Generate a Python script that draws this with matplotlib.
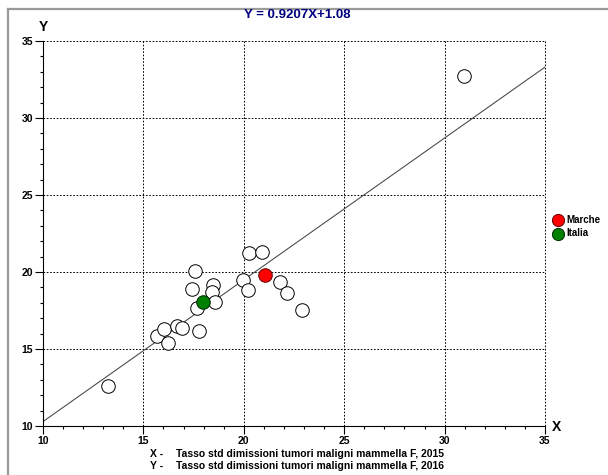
import matplotlib
matplotlib.use("Agg")
import matplotlib.pyplot as plt
from matplotlib.lines import Line2D
import numpy as np

# Data (rates 2015 vs 2016)
x_regions = [13.25, 15.69, 16.03, 16.21, 16.69, 16.91, 17.78, 17.65, 17.57, 17.40,
             18.45, 18.40, 18.57, 20.28, 20.90, 19.98, 20.19, 21.80, 22.17, 22.88, 30.97]
y_regions = [12.60, 15.84, 16.28, 15.37, 16.49, 16.38, 16.17, 17.64, 20.08, 18.88,
             19.16, 18.72, 18.07, 21.21, 21.30, 19.48, 18.83, 19.33, 18.62, 17.53, 32.75]
marche = (21.08, 19.81)
italia = (17.98, 18.05)
slope = 0.9207
intercept = 1.08
x_ticks = [10, 15, 20, 25, 30, 35]
y_ticks = [10, 15, 20, 25, 30, 35]
title_text = "Y = 0.9207X+1.08"
x_desc = "Tasso std dimissioni tumori maligni mammella F, 2015"
y_desc = "Tasso std dimissioni tumori maligni mammella F, 2016"

FAM = ['Liberation Sans Narrow', 'Liberation Sans', 'DejaVu Sans']
plt.rcParams['font.family'] = FAM

W, H = 608, 475
fig = plt.figure(figsize=(W / 100, H / 100), dpi=100)
fig.patch.set_facecolor('white')

# outer frame (top and left gray lines)
fig.add_artist(Line2D([8 / W, 8 / W], [0, 1 - 9 / H], transform=fig.transFigure,
                      color='#9a9a9a', lw=1.6))
fig.add_artist(Line2D([8 / W, 1], [1 - 9 / H, 1 - 9 / H], transform=fig.transFigure,
                      color='#9a9a9a', lw=1.6))

left, right = 43 / W, 545 / W
bottom, top = 1 - 426 / H, 1 - 41 / H
ax = fig.add_axes([left, bottom, right - left, top - bottom])
ax.set_xlim(10, 35)
ax.set_ylim(10, 35)

for s in ['top', 'right']:
    ax.spines[s].set_visible(False)
for s in ['left', 'bottom']:
    ax.spines[s].set_linewidth(0.8)
    ax.spines[s].set_color('black')

ax.set_xticks(x_ticks)
ax.set_yticks(y_ticks)
ax.set_xticks(np.arange(10, 36, 1), minor=True)
ax.set_yticks(np.arange(10, 36, 1), minor=True)
ax.tick_params(which='major', direction='out', length=6, width=0.8, pad=1.0,
               labelsize=7.5)
ax.tick_params(which='minor', direction='out', length=2.5, width=0.8)
for lab in ax.get_xticklabels() + ax.get_yticklabels():
    lab.set_fontweight('bold')

# dotted grid incl. the top and right edges
for v in x_ticks[1:]:
    ax.plot([v, v], [10, 35], color='black', lw=0.7, dashes=(1.7, 1.7), zorder=1,
            clip_on=False)
for v in y_ticks[1:]:
    ax.plot([10, 35], [v, v], color='black', lw=0.7, dashes=(1.7, 1.7), zorder=1,
            clip_on=False)

# regression line
xl = np.array([10, 35])
ax.plot(xl, slope * xl + intercept, color='#444444', lw=0.75, zorder=2)

ax.scatter(x_regions, y_regions, s=95, facecolor='white', edgecolor='black',
           linewidths=0.7, zorder=3)
h1 = ax.scatter([marche[0]], [marche[1]], s=95, facecolor='#ff0000',
                edgecolor='#600000', linewidths=0.7, zorder=4, label='Marche')
h2 = ax.scatter([italia[0]], [italia[1]], s=95, facecolor='#008000',
                edgecolor='#002800', linewidths=0.7, zorder=4, label='Italia')

fig.legend(handles=[h1, h2], loc='center left',
           bbox_to_anchor=(553 / W, 1 - 226.5 / H), frameon=False,
           prop={'weight': 'bold', 'size': 7, 'family': FAM},
           handlelength=1.0, handletextpad=0.4, labelspacing=0.35,
           borderpad=0, borderaxespad=0, markerscale=0.9)

fig.text(297 / W, 1 - 15 / H, title_text, ha='center', va='center',
         color='#000080', fontsize=9.5, fontweight='bold',
         family=['Liberation Sans', 'DejaVu Sans'])
fig.text(43 / W, 1 - 27 / H, "Y", ha='center', va='center', fontsize=10,
         fontweight='bold', family=['Liberation Sans', 'DejaVu Sans'])
fig.text(556 / W, 1 - 427 / H, "X", ha='center', va='center', fontsize=10,
         fontweight='bold', family=['Liberation Sans', 'DejaVu Sans'])

fig.text(150 / W, 1 - 454 / H, "X -", ha='left', va='center', fontsize=7.5,
         fontweight='bold')
fig.text(176 / W, 1 - 454 / H, x_desc, ha='left', va='center', fontsize=7.5,
         fontweight='bold')
fig.text(150 / W, 1 - 466 / H, "Y -", ha='left', va='center', fontsize=7.5,
         fontweight='bold')
fig.text(176 / W, 1 - 466 / H, y_desc, ha='left', va='center', fontsize=7.5,
         fontweight='bold')

fig.savefig('out.png', dpi=100)
